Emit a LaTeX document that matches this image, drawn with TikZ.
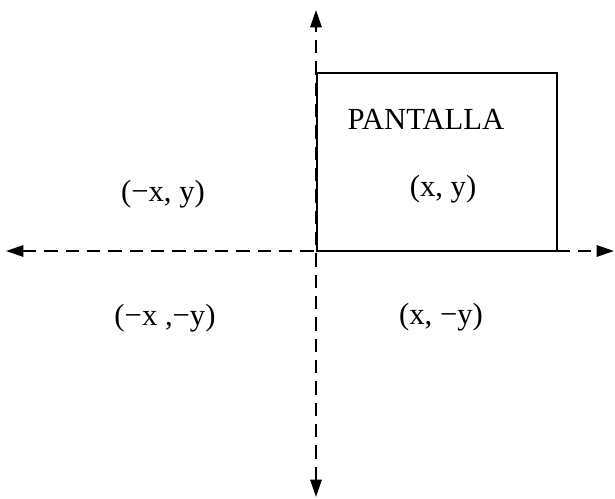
\documentclass[tikz,border=0pt]{standalone}
\usepackage{fontspec}
\setmainfont{Liberation Serif}
\usetikzlibrary{arrows.meta}
\begin{document}
\begin{tikzpicture}[x=0.75pt,y=-0.75pt,
  axis/.style={line width=1.5pt,dash pattern=on 10pt off 6pt,{Triangle[length=13pt,width=8.5pt]}-{Triangle[length=13pt,width=8.5pt]}},
  screen/.style={draw,line width=1.7pt},
  lbl/.style={font=\fontsize{23}{26}\selectfont,inner sep=0pt}]
\useasboundingbox (0,0) rectangle (615,499);
\coordinate (top) at (316,10);
\coordinate (bot) at (316,497);
\coordinate (left) at (6,251);
\coordinate (right) at (614,251);
\draw[axis] (bot) -- (top);
\draw[axis] (left) -- (right);
\node[screen,minimum width=240*0.75pt,minimum height=178*0.75pt,anchor=north west,inner sep=0pt] (pantalla) at (316,72) {};
\node[lbl] (title) at (426,119) {PANTALLA};
\node[lbl] (q1) at (443,189) {(x, y)};
\node[lbl] (q2) at (163,194) {(−x, y)};
\node[lbl] (q3) at (165,318) {(−x ,−y)};
\node[lbl] (q4) at (441,317) {(x, −y)};
\end{tikzpicture}
\end{document}
